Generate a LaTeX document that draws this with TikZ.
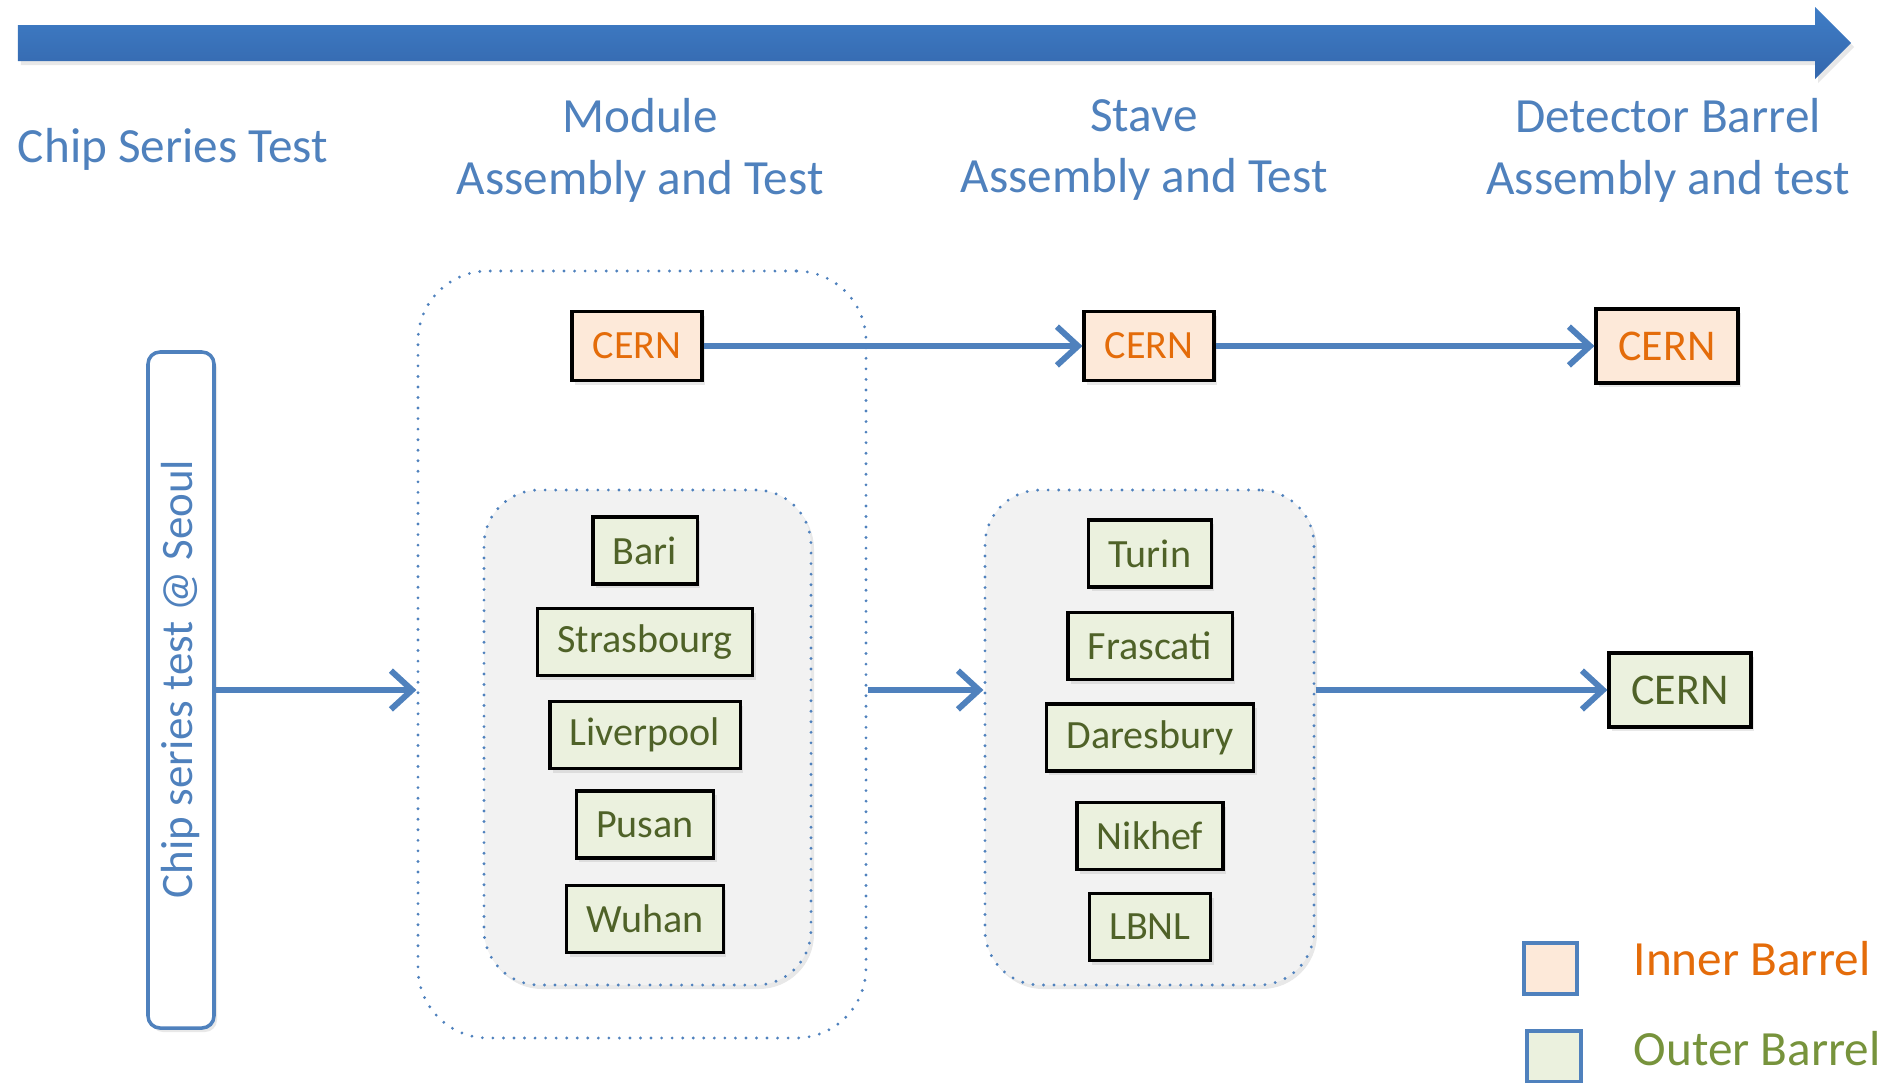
\documentclass[tikz,border=0pt]{standalone}
\usepackage{fontspec}
\setmainfont{Carlito}
\usetikzlibrary{positioning, arrows.meta, shadows}

\definecolor{hdrblue}{HTML}{4F81BD}
\definecolor{bartop}{HTML}{3F7DC6}
\definecolor{barbottom}{HTML}{3467AD}
\definecolor{ibfill}{HTML}{FDE9D9}
\definecolor{ibtext}{HTML}{E46C0A}
\definecolor{obfill}{HTML}{EBF1DE}
\definecolor{obtext}{HTML}{4F6228}
\definecolor{oblegend}{HTML}{77933C}
\definecolor{panelgrey}{HTML}{F2F2F2}

\tikzset{
	softshadow/.style={drop shadow={opacity=0.18, shadow xshift=0.03cm, shadow yshift=-0.04cm}},
	site/.style={draw=black, line width=0.9pt, inner xsep=0.2cm, minimum height=0.67cm, font=\fontsize{11.4}{13}\selectfont, softshadow},
	ibbox/.style={site, fill=ibfill, text=ibtext},
	obbox/.style={site, fill=obfill, text=obtext},
	panel/.style={draw=hdrblue, line width=0.9pt, dash pattern=on 0pt off 3pt, line cap=round, rounded corners=0.55cm},
	flow/.style={-{Straight Barb[length=6pt, width=11pt]}, draw=hdrblue, line width=1.7pt},
	hdr/.style={text=hdrblue, font=\fontsize{14}{17.6}\selectfont, align=center},
	legbox/.style={draw=hdrblue, line width=1pt, inner sep=0pt, minimum width=0.53cm, minimum height=0.51cm},
}

\begin{document}
\begin{tikzpicture}
			\useasboundingbox	(0, 0) rectangle (18.99, -10.82);
			\path	[top color=bartop, bottom color=barbottom, softshadow]
				(0.18, -0.25) -- (18.15, -0.25) -- (18.15, -0.07) -- (18.51, -0.43) -- (18.15, -0.79) -- (18.15, -0.61) -- (0.18, -0.61) -- cycle;

			\node	(chiptitle)	at	(1.73, -1.49)	[hdr]	{Chip Series Test};
			\node	(modtitle)	at	(6.40, -1.50)	[hdr]	{Module\\Assembly and Test};
			\node	(stavetitle)	at	(11.44, -1.50)	[hdr]	{Stave\\Assembly and Test};
			\node	(bartitle)	at	(16.68, -1.50)	[hdr]	{Detector Barrel\\Assembly and test};

			\node	(chip)	at	(1.81, -6.90)	[draw=hdrblue, line width=1pt, fill=white, rounded corners=0.12cm, minimum width=0.66cm, minimum height=6.76cm, inner sep=0pt, text=hdrblue, font=\fontsize{12.8}{15}\selectfont, softshadow]
				{\rotatebox{90}{\hspace*{0.22cm}Chip series test @ Seoul}};

			\node	(modgroup)	at	(6.42, -6.545)	[panel, rounded corners=0.7cm, minimum width=4.48cm, minimum height=7.67cm]	{};
			\node	(modob)	at	(6.475, -7.375)	[panel, fill=panelgrey, softshadow, minimum width=3.27cm, minimum height=4.95cm]	{};
			\node	(staveob)	at	(11.495, -7.375)	[panel, fill=panelgrey, softshadow, minimum width=3.29cm, minimum height=4.95cm]	{};

			\node	(modib)	at	(6.37, -3.46)	[ibbox, minimum width=1.30cm, minimum height=0.69cm]	{CERN};
			\node	(staveib)	at	(11.49, -3.46)	[ibbox, minimum width=1.30cm, minimum height=0.69cm]	{CERN};
			\node	(barib)	at	(16.67, -3.46)	[ibbox, minimum width=1.42cm, minimum height=0.74cm, font=\fontsize{12.5}{14}\selectfont]	{CERN};

			\node	(bari)	at	(6.45, -5.505)	[obbox]	{Bari};
			\node	(strasbourg)	at	(6.45, -6.42)	[obbox]	{Strasbourg};
			\node	(liverpool)	at	(6.45, -7.35)	[obbox]	{Liverpool};
			\node	(pusan)	at	(6.45, -8.245)	[obbox]	{Pusan};
			\node	(wuhan)	at	(6.45, -9.19)	[obbox]	{Wuhan};

			\node	(turin)	at	(11.50, -5.535)	[obbox]	{Turin};
			\node	(frascati)	at	(11.50, -6.46)	[obbox]	{Frascati};
			\node	(daresbury)	at	(11.50, -7.375)	[obbox]	{Daresbury};
			\node	(nikhef)	at	(11.50, -8.36)	[obbox]	{Nikhef};
			\node	(lbnl)	at	(11.50, -9.27)	[obbox]	{LBNL};

			\node	(barob)	at	(16.80, -6.90)	[obbox, minimum width=1.42cm, minimum height=0.74cm, font=\fontsize{12.5}{14}\selectfont]	{CERN};

			\draw	[flow]	(modib)	--	(staveib);
			\draw	[flow]	(staveib)	--	(barib);
			\draw	[flow]	(chip.east)	--	(chip.east -| modgroup.west);
			\draw	[flow]	(chip.east -| modgroup.east)	--	(chip.east -| staveob.west);
			\draw	[flow]	(chip.east -| staveob.east)	--	(barob.west);

			\node	(legib)	at	(15.505, -9.685)	[legbox, fill=ibfill]	{};
			\node	(legob)	at	(15.54, -10.565)	[legbox, fill=obfill, minimum width=0.54cm]	{};
			\node	(legibtext)	at	(16.33, -9.75)	[anchor=base west, inner sep=0pt, text=ibtext, font=\fontsize{14}{17}\selectfont]	{Inner Barrel};
			\node	(legobtext)	at	(16.33, -10.65)	[anchor=base west, inner sep=0pt, text=oblegend, font=\fontsize{14}{17}\selectfont]	{Outer Barrel};
		\end{tikzpicture}
\end{document}
